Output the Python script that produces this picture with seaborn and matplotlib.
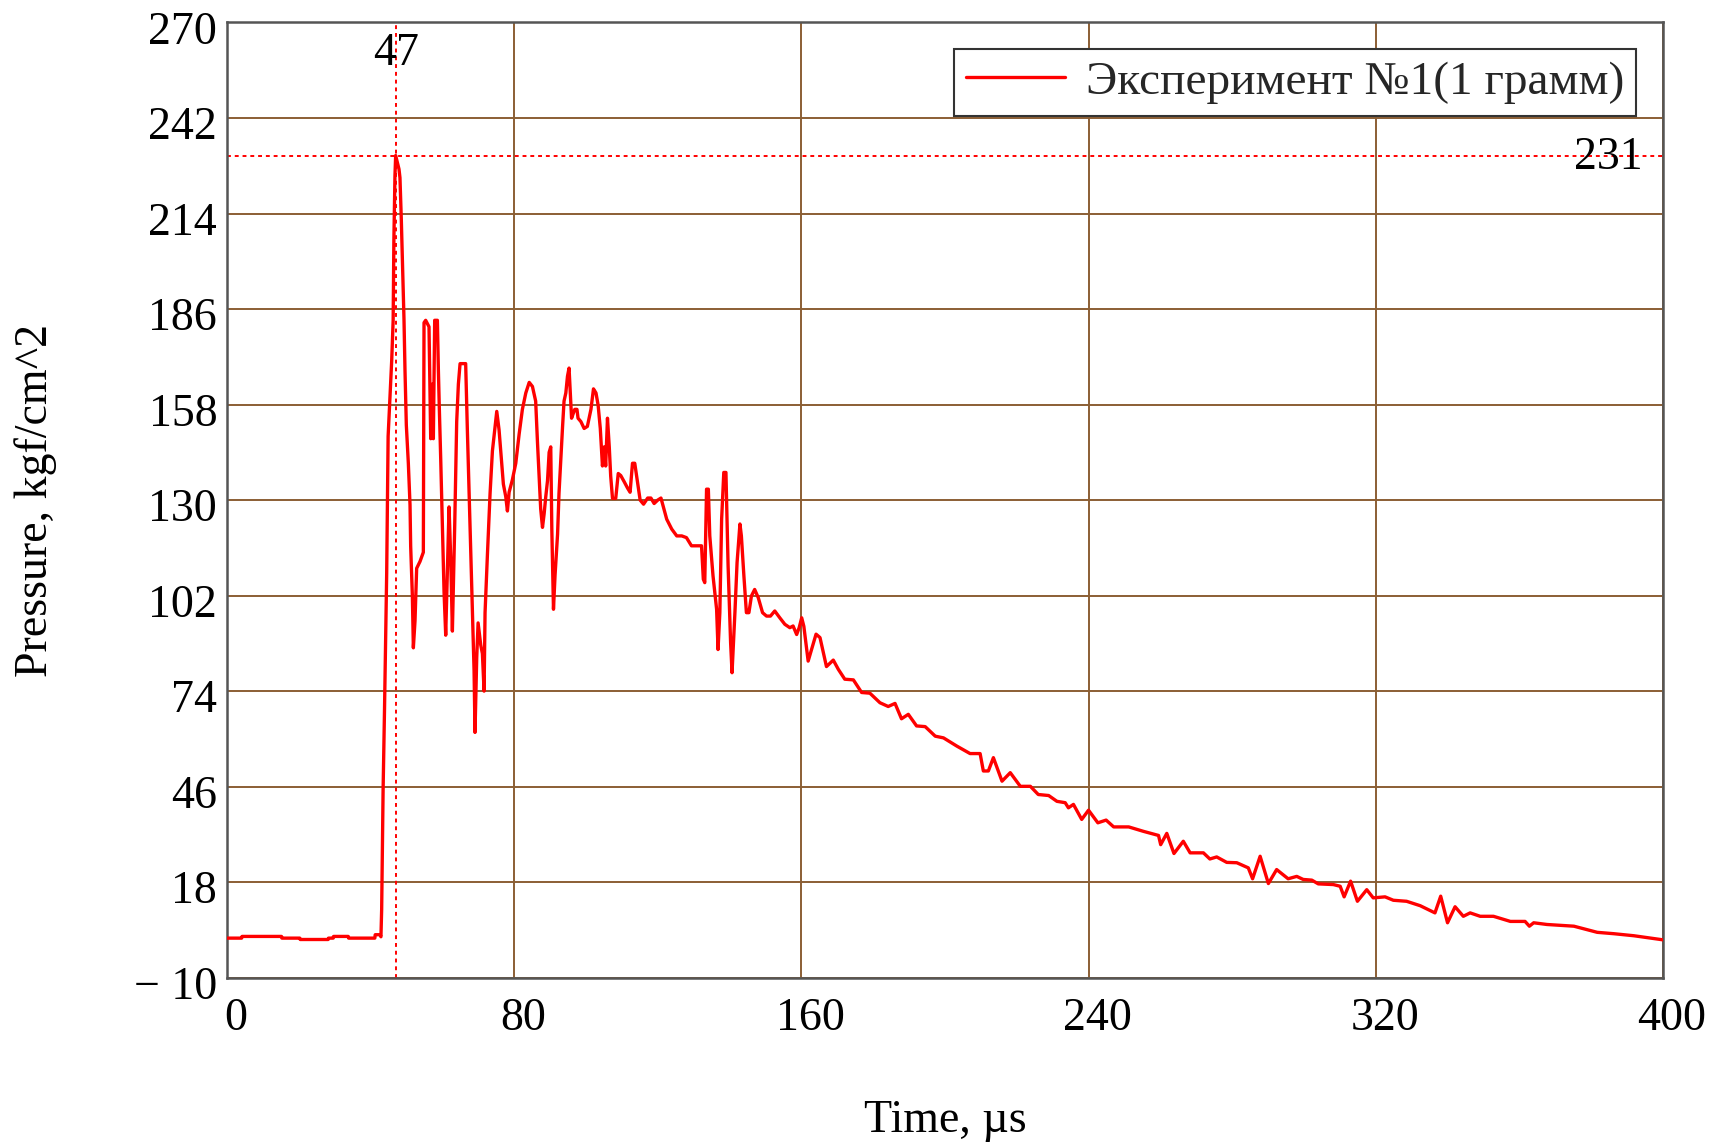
import matplotlib
matplotlib.use("Agg")
import pandas as pd
import seaborn as sns
import matplotlib.pyplot as plt
from matplotlib.ticker import FixedLocator, FuncFormatter
from matplotlib.transforms import ScaledTranslation

# time, microseconds
time_us = [
    0, 4.1, 4.2, 15.2, 15.3, 20.3, 20.4, 28.2, 28.3, 29.6, 29.7, 33.8, 33.9, 41.2, 41.3, 42.6, 42.9,
    43.1, 43.5, 43.9, 44.5, 44.9, 45.4, 45.9, 46.3, 46.5, 46.8, 47.0,
    47.46, 47.93, 48.2, 48.58, 48.95, 49.32, 49.6, 49.97, 50.53, 51.0, 51.18, 51.65, 51.93,
    52.39, 52.85, 53.78, 54.71, 54.9, 55.36, 56.29, 56.76, 57.22, 57.5, 57.87, 58.62, 58.9,
    59.17, 59.55, 60.0, 60.48, 60.94, 61.4, 61.87, 62.33, 62.8, 63.45, 64.0, 64.47, 64.94,
    66.5, 66.97, 67.45, 67.9, 68.4, 68.84, 69.1, 69.58, 69.96, 70.7, 71.16, 71.63, 71.9,
    72.56, 73.3, 73.95, 74.6, 75.16, 75.8, 76.46, 77.0, 77.67, 78.13, 78.6, 79.5, 80.46,
    81.39, 82.3, 83.25, 84.2, 85.1, 86.0, 86.5, 86.96, 87.4, 87.9, 88.36, 88.8, 89.3, 89.75,
    90.2, 90.5, 90.96, 91.4, 92.1, 92.5, 93.0, 93.5, 93.9, 94.4, 94.86, 95.3, 95.6, 96.0,
    96.4, 96.9, 97.5, 97.8, 98.6, 99.5, 100.4, 101.4, 102.1, 102.8, 103.4, 104.0, 104.6,
    105.1, 105.5, 106.0, 106.5, 106.9, 107.4, 108.3, 109.0, 109.7, 110.7, 111.6, 112.3,
    112.97, 113.6, 114.4, 115.1, 116.05, 117.2, 118.1, 119.0, 120.0, 120.9,
    121.5, 122.5, 123.9, 125.3, 126.7, 128.0, 129.4, 130.8, 132.2, 132.7, 133.1, 133.6,
    134.1, 134.5, 135.4, 136.4, 136.8, 137.3, 137.8, 138.4, 139.0, 139.6, 140.3, 140.7,
    141.5, 142.1, 142.9, 143.3, 144.0, 144.7, 145.4, 146.1, 147.0, 148.0, 149.2, 150.3,
    151.4, 152.6, 154.0, 155.4, 156.8, 157.7, 158.7, 159.4, 160.1, 160.7,
    161.9, 164.1, 165.2, 167.0, 168.9, 170.3, 172.1, 174.5, 176.8, 179.1, 181.9, 184.2,
    186.1, 187.9, 189.8, 192.1, 194.5, 197.3, 199.6, 203.3, 207.0, 209.8, 210.7, 212.1,
    213.5, 215.9, 218.2, 221.0, 223.8, 226.0, 228.9, 231.2, 233.5, 234.4, 235.8, 238.1,
    240.0, 242.6, 244.9, 247.0, 251.2, 255.3, 259.5, 260.1, 261.8, 263.8, 266.4, 268.3,
    272.0, 273.8, 275.7, 278.5, 281.3, 284.5, 285.7, 287.8, 290.1, 292.4, 295.6, 298.0,
    299.8, 302.2, 304.0, 308.2, 310.1, 311.2, 313.0, 314.9, 317.5, 319.3, 322.6, 324.9,
    328.6, 332.4, 336.5, 338.1, 340.0, 342.1, 344.4, 346.3, 349.1, 352.8, 357.5, 361.6,
    362.8, 364.0, 367.7, 375.2, 381.7, 386.3, 391.9, 399.8, 400,
]

# pressure, kgf/cm^2
pressure = [
    1.6, 1.6, 2.1, 2.1, 1.6, 1.6, 1.2, 1.2, 1.6, 1.6, 2.1, 2.1, 1.6, 1.6, 2.6, 2.6, 2.0,
    10, 45, 69, 108.6, 148.7, 159.6, 171, 182.7, 206, 225, 231,
    229, 227, 224.5, 212, 198, 183, 168, 152, 140.8, 128.6, 116.5, 102, 86.7,
    94.6, 110, 112, 114.7, 182, 182.7, 180.8, 148, 164, 148, 182.7, 182.7, 168,
    156.6, 142, 122.6, 103, 90.4, 109, 128, 113, 91.6, 122.6, 153, 164, 170,
    170, 150.6, 132.3, 114, 95.9, 80, 61.9, 83.8, 94, 87.5, 85, 74, 97,
    114, 132, 144.4, 150.6, 156, 150.6, 142, 134.7, 131, 126.8, 132.3, 135.9, 140.8,
    149.3, 156.6, 161.4, 164.5, 163.3, 159, 147, 137, 127.4, 122, 126, 130.9, 135.7, 144,
    145.6, 121.4, 98, 108, 120, 132, 142, 151.7, 159, 161.4, 166.3, 168.7, 162.6, 154,
    155.2, 156.6, 156.6, 154, 153, 151, 151.6, 156.6, 162.6, 161.4, 157.8, 151, 140,
    145.6, 140, 154, 145.6, 137, 130.5, 130.5, 137.8, 137.2, 135.3, 133.5, 132.3,
    140.8, 140.8, 135, 130, 128.8, 130.6, 130.6, 129.0, 130, 130.6,
    128.3, 124.4, 121.5, 119.5, 119.5, 119, 116.6, 116.6, 116.6, 106.8, 105.8, 133.2,
    133.2, 119.5, 107.8, 98, 86.2, 97, 124.4, 138.1, 138.1, 110.7, 88.2, 79.4,
    97, 111.7, 123, 119.5, 107.8, 97, 97, 101.9, 103.8, 101.4, 97, 96,
    96, 97.5, 95.5, 93.6, 92.6, 93.1, 90.6, 92.6, 95.5, 93,
    82.8, 90.7, 89.7, 81.2, 83.1, 80.4, 77.5, 77.3, 73.6, 73.4, 70.6, 69.5,
    70.4, 65.9, 67.2, 63.8, 63.6, 60.8, 60.3, 57.9, 55.7, 55.7, 50.6, 50.6,
    54.5, 47.6, 50.1, 46.1, 46.1, 43.7, 43.4, 41.7, 41.3, 39.8, 40.8, 36.4,
    39.1, 35.4, 36.2, 34.2, 34.2, 32.9, 31.7, 29.0, 32.3, 26.4, 30.0, 26.6,
    26.6, 24.8, 25.4, 23.8, 23.7, 22.2, 19.0, 25.6, 17.6, 21.7, 19.0, 19.7,
    18.8, 18.6, 17.5, 17.3, 16.8, 13.7, 18.3, 12.4, 15.8, 13.4, 13.7, 12.7,
    12.4, 11.1, 9.0, 13.9, 6.1, 10.8, 8.0, 9.0, 8.0, 8.0, 6.5, 6.5,
    5.1, 6.1, 5.6, 5.1, 3.3, 2.9, 2.3, 1.15, 1.1,
]

peak_time = 47
peak_pressure = 231
x_ticks = [0, 80, 160, 240, 320, 400]
y_ticks = [-10, 18, 46, 74, 102, 130, 158, 186, 214, 242, 270]
series_label = "Эксперимент №1(1 грамм)"

df = pd.DataFrame({"Time": time_us, "Pressure": pressure})

sns.set_theme(style="white")
plt.rcParams["font.family"] = ["Liberation Serif", "DejaVu Serif"]
fs = 33
grid_col = "#8B5E34"

fig = plt.figure(figsize=(17.14, 11.47), dpi=100)
ax = fig.add_axes([0.1324, 0.1476, 0.8378, 0.8328])

sns.lineplot(data=df, x="Time", y="Pressure", ax=ax, color="#ff0000", lw=2.4,
             sort=False, estimator=None, label=series_label, zorder=3)

# marker lines at the peak
ax.axvline(peak_time, color="#ff0000", lw=1.4, ls=(0, (2, 2)), zorder=2)
ax.axhline(peak_pressure, color="#ff0000", lw=1.4, ls=(0, (2, 2)), zorder=2)

ax.set_xlim(x_ticks[0], x_ticks[-1])
ax.set_ylim(y_ticks[0], y_ticks[-1])
ax.xaxis.set_major_locator(FixedLocator(x_ticks))
ax.yaxis.set_major_locator(FixedLocator(y_ticks))
ax.yaxis.set_major_formatter(FuncFormatter(
    lambda v, p: f"\u2212 {abs(v):g}" if v < 0 else f"{v:g}"))
ax.grid(True, color=grid_col, lw=1.4)
ax.set_axisbelow(True)

ax.tick_params(axis="both", length=0, labelsize=fs, colors="black")
ax.tick_params(axis="y", pad=7)
ax.tick_params(axis="x", pad=14)
for lab in ax.get_xticklabels():
    lab.set_transform(lab.get_transform() + ScaledTranslation(0.09, 0, fig.dpi_scale_trans))
for lab in ax.get_yticklabels():
    lab.set_transform(lab.get_transform() + ScaledTranslation(0, -0.05, fig.dpi_scale_trans))

for sp in ax.spines.values():
    sp.set_color("#555555")
    sp.set_linewidth(1.8)

ax.set_xlabel("Time, \u00b5s", fontsize=fs, color="black")
ax.set_ylabel("Pressure, kgf/cm^2", fontsize=fs, color="black")
ax.xaxis.set_label_coords(0.5, -0.128)
ax.yaxis.set_label_coords(-0.118, 0.5)

ax.annotate(f"{peak_time}", xy=(peak_time, 1), xycoords=("data", "axes fraction"),
            xytext=(0, -10), textcoords="offset pixels", ha="center", va="top",
            fontsize=fs, color="black")
ax.annotate(f"{peak_pressure}", xy=(1, peak_pressure), xycoords=("axes fraction", "data"),
            xytext=(-20, -2), textcoords="offset pixels", ha="right", va="center",
            fontsize=fs, color="black")

leg = ax.legend(loc="upper right", fontsize=34, frameon=True, fancybox=False,
                framealpha=1, edgecolor="#333333", borderpad=0.25,
                borderaxespad=0.56, handlelength=2.1, handletextpad=0.45)
leg.get_frame().set_linewidth(1.5)

fig.savefig("out.png", dpi=100)
